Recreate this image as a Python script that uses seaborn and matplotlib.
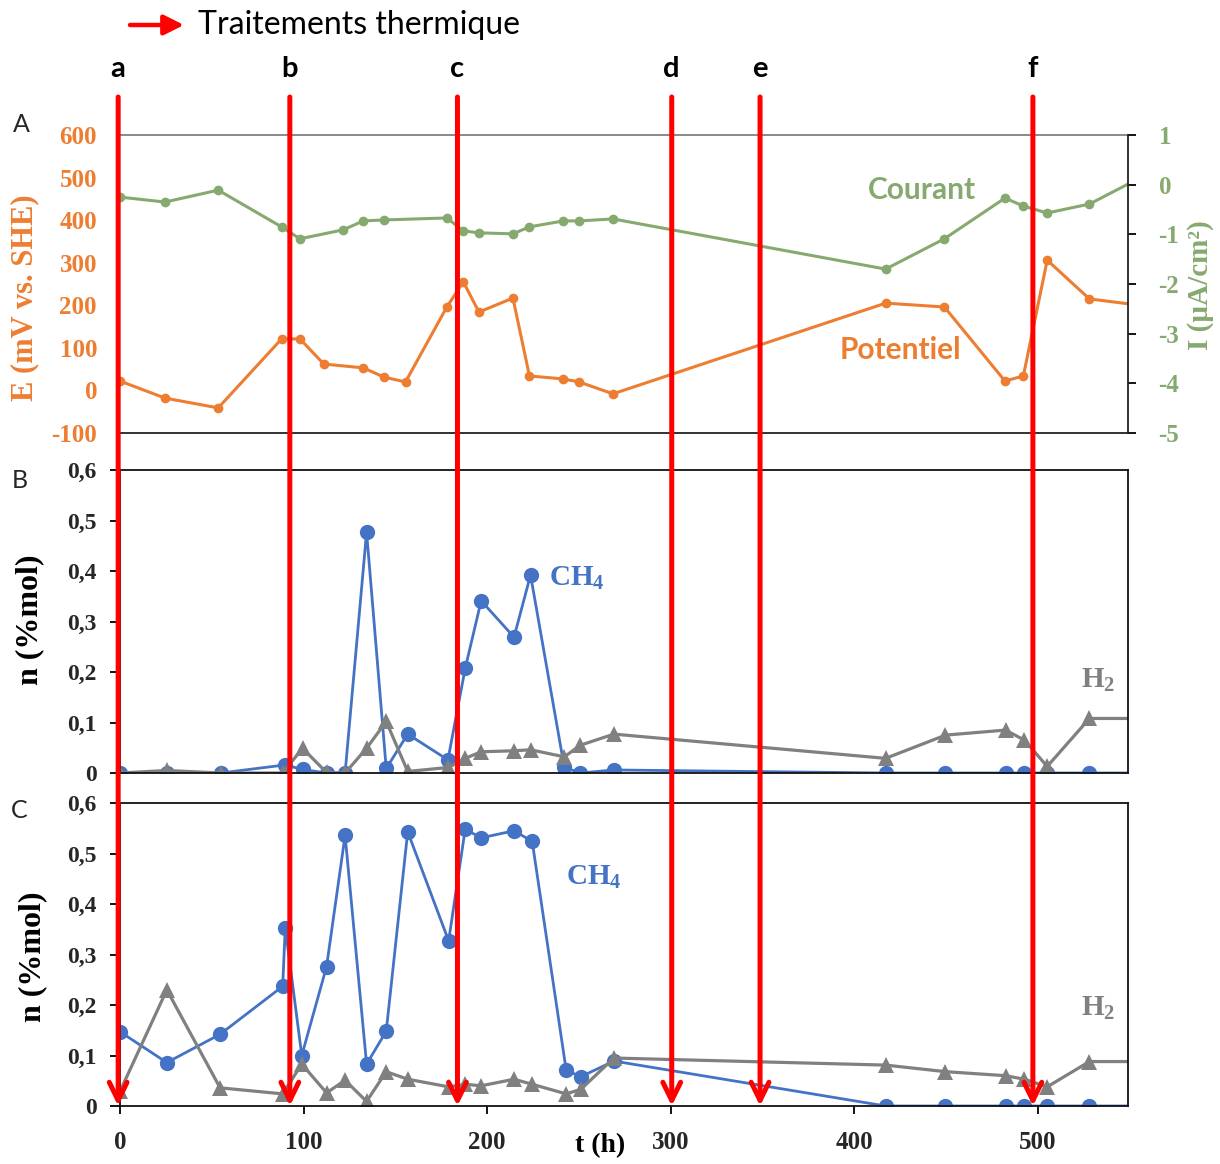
import numpy as np
import pandas as pd
import matplotlib
matplotlib.use("Agg")
import matplotlib.pyplot as plt
import seaborn as sns
from matplotlib.transforms import blended_transform_factory

sns.set_theme(style="ticks")
plt.rcParams['font.family'] = ['Liberation Serif', 'DejaVu Sans']
plt.rcParams['mathtext.fontset'] = 'custom'
plt.rcParams['mathtext.rm'] = 'Liberation Serif:bold'
plt.rcParams['mathtext.it'] = 'Liberation Serif:bold'
plt.rcParams['mathtext.bf'] = 'Liberation Serif:bold'

# ---------------- data ----------------
# Panel A : potential (mV vs SHE) and current (uA/cm2)
t_E = [0, 24.5, 53.5, 88, 98, 111, 132.5, 144, 155.5, 178, 187, 195.5, 214, 223,
       241.5, 250, 268.5, 417, 449, 482, 492, 505, 528, 550]
E_mV = [22, -18, -41, 121, 121, 62, 53, 31, 20, 196, 255, 184, 217, 34,
        27, 20, -8, 205, 196, 22, 34, 306, 215, 203]
t_I = [0, 24.5, 53.5, 88, 98, 121.5, 132.5, 144, 178, 187, 195.5, 214, 223,
       241.5, 250, 268.5, 417, 449, 482, 492, 505, 528, 550]
I_uA = [-0.25, -0.35, -0.11, -0.85, -1.09, -0.91, -0.73, -0.71, -0.67, -0.93, -0.97,
        -0.99, -0.85, -0.73, -0.73, -0.69, -1.70, -1.09, -0.27, -0.43, -0.57, -0.39, 0.03]

# Panel B : gas composition
tB_ch4 = [0, 25.5, 54.8, 90, 99.4, 112.5, 122.6, 134.3, 145, 156.7, 178.6, 188, 196.7,
          214.6, 223.6, 242, 250.7, 269, 417, 449.6, 482.3, 492.6, 505, 528, 550]
nB_ch4 = [0, 0, 0, 0.016, 0.007, 0, 0, 0.477, 0.009, 0.077, 0.026, 0.207, 0.341,
          0.269, 0.392, 0.011, 0, 0.006, 0, 0, 0, 0, 0, 0, 0]
tB_h2 = [0, 25.5, 54.8, 88.6, 99.4, 112.5, 122.6, 134.3, 145, 156.7, 178.6, 188, 196.7,
         214.6, 223.6, 242, 250.7, 269, 417, 449.6, 482.3, 492.6, 505, 528, 550]
nB_h2 = [0, 0.005, 0, 0, 0.049, 0.001, 0, 0.049, 0.102, 0.003, 0.011, 0.029, 0.042,
         0.044, 0.046, 0.032, 0.055, 0.077, 0.029, 0.075, 0.085, 0.065, 0.013, 0.108, 0.108]

# Panel C : gas composition
tC_ch4 = [0, 25.5, 54.5, 88.6, 90, 99, 112.5, 122.6, 134.3, 145, 156.7, 179, 188, 196.7,
          214.6, 224.5, 243, 251, 269, 417, 449.6, 482.3, 492.6, 505, 528, 550]
nC_ch4 = [0.147, 0.086, 0.142, 0.237, 0.353, 0.100, 0.276, 0.536, 0.083, 0.148, 0.543,
          0.327, 0.548, 0.531, 0.545, 0.524, 0.071, 0.058, 0.089, 0, 0, 0, 0, 0, 0, 0]
tC_h2 = [0, 25.5, 54.5, 88.6, 99, 112.5, 122.6, 134.3, 145, 156.7, 179, 188, 196.7,
         214.6, 224.5, 243, 251, 269, 417, 449.6, 482.3, 492.6, 505, 528, 550]
nC_h2 = [0.029, 0.230, 0.036, 0.024, 0.083, 0.026, 0.051, 0.009, 0.068, 0.053, 0.038,
         0.043, 0.040, 0.053, 0.043, 0.024, 0.033, 0.095, 0.081, 0.068, 0.060, 0.053,
         0.038, 0.088, 0.088]

# heat treatments
treat_t = [-1, 92.5, 183.8, 300.5, 348.6, 497.2]
treat_lbl = ['a', 'b', 'c', 'd', 'e', 'f']

E_ticks = [-100, 0, 100, 200, 300, 400, 500, 600]
I_ticks = [-5, -4, -3, -2, -1, 0, 1]
n_ticks = [0, 0.1, 0.2, 0.3, 0.4, 0.5, 0.6]
n_tick_lbl = ['0', '0,1', '0,2', '0,3', '0,4', '0,5', '0,6']
t_ticks = [0, 100, 200, 300, 400, 500]

# ---------------- style ----------------
ORANGE = '#ED7D31'
GREEN = '#86A970'
BLUE = '#4472C4'
GRAY = '#808080'
RED = '#FF0000'
SANS = ['Lato', 'DejaVu Sans']

W, H = 1220, 1164
fig = plt.figure(figsize=(W / 100, H / 100), dpi=100)


def rect(l, t, r, b):
    return [l / W, 1 - b / H, (r - l) / W, (b - t) / H]


XMAX = 549
axA = fig.add_axes(rect(120, 135, 1128, 433))
axA2 = axA.twinx()
axB = fig.add_axes(rect(120, 470, 1128, 773))
axC = fig.add_axes(rect(120, 803, 1128, 1106))

# ---- panel A ----
sns.lineplot(x=t_E, y=E_mV, ax=axA, color=ORANGE, lw=2.2, marker='o', markersize=7,
             markeredgewidth=0, markevery=list(range(len(t_E) - 1)),
             estimator=None, sort=False)
sns.lineplot(x=t_I, y=I_uA, ax=axA2, color=GREEN, lw=2.2, marker='o', markersize=7,
             markeredgewidth=0, markevery=list(range(len(t_I) - 1)),
             estimator=None, sort=False)
axA.set_xlim(0, XMAX)
axA.set_ylim(-100, 600)
axA2.set_ylim(-5, 1)
axA.set_xticks([])
axA.set_yticks(E_ticks)
axA.set_yticklabels([str(v) for v in E_ticks])
axA2.set_yticks(I_ticks)
axA2.set_yticklabels([str(v) for v in I_ticks])
axA.tick_params(axis='y', length=0, pad=23 * 0.72, labelsize=18, labelcolor=ORANGE)
axA2.tick_params(axis='y', right=True, length=6, width=1.3, color='black', pad=16,
                 labelsize=18, labelcolor=GREEN)
for lab in axA.get_yticklabels():
    lab.set_fontweight('bold')
for lab in axA2.get_yticklabels():
    lab.set_fontweight('bold')
for sp in ['left', 'right']:
    axA.spines[sp].set_visible(False)
axA.spines['top'].set_color('#808080')
axA.spines['top'].set_linewidth(1.3)
axA.spines['bottom'].set_color('#222222')
axA.spines['bottom'].set_linewidth(1.3)
for sp in ['left', 'top', 'bottom']:
    axA2.spines[sp].set_visible(False)
axA2.spines['right'].set_color('#222222')
axA2.spines['right'].set_linewidth(1.3)
axA.set_xlabel('')
axA.set_ylabel('')
axA2.set_ylabel('')
axA.text(-95 / 1008, (433 - 298) / 298, 'E (mV vs. SHE)', transform=axA.transAxes,
         rotation=90, ha='center', va='center', fontsize=22, fontweight='bold', color=ORANGE)
axA.text((1200 - 120) / 1008, (433 - 285) / 298, 'I (µA/cm²)', transform=axA.transAxes,
         rotation=90, ha='center', va='center', fontsize=21, fontweight='bold', color=GREEN)
axA.text((922 - 120) / 1008, (433 - 190) / 298, 'Courant', transform=axA.transAxes,
         ha='center', va='center', fontsize=21.5, fontweight='bold', color=GREEN, family=SANS)
axA.text((900 - 120) / 1008, (433 - 350) / 298, 'Potentiel', transform=axA.transAxes,
         ha='center', va='center', fontsize=21.5, fontweight='bold', color=ORANGE, family=SANS)


def gas_panel(ax, t1, n1, t2, n2, show_x):
    sns.lineplot(x=t1, y=n1, ax=ax, color=BLUE, lw=2, marker='o', markersize=11,
                 markeredgewidth=0, markevery=list(range(len(t1) - 1)),
                 estimator=None, sort=False)
    sns.lineplot(x=t2, y=n2, ax=ax, color=GRAY, lw=2.3, marker='^', markersize=11,
                 markeredgewidth=0, markevery=list(range(len(t2) - 1)),
                 estimator=None, sort=False)
    ax.set_xlim(0, XMAX)
    ax.set_ylim(0, 0.6)
    ax.set_yticks(n_ticks)
    ax.set_yticklabels(n_tick_lbl)
    ax.tick_params(axis='y', left=True, length=7, width=1.3, color='black', pad=10,
                   labelsize=17)
    if show_x:
        ax.set_xticks(t_ticks)
        ax.set_xticklabels([str(v) for v in t_ticks])
        ax.tick_params(axis='x', bottom=True, length=6, width=1.3, color='black', pad=12,
                       labelsize=18)
        for lab in ax.get_xticklabels():
            lab.set_fontweight('bold')
    else:
        ax.set_xticks([])
    for lab in ax.get_yticklabels():
        lab.set_fontweight('bold')
    for sp in ax.spines.values():
        sp.set_color('#111111')
        sp.set_linewidth(1.3)
    ax.set_xlabel('')
    ax.set_ylabel('')


gas_panel(axB, tB_ch4, nB_ch4, tB_h2, nB_h2, False)
gas_panel(axC, tC_ch4, nC_ch4, tC_h2, nC_h2, True)

axB.text((30 - 120) / 1008, (773 - 620) / 303, 'n (%mol)', transform=axB.transAxes,
         rotation=90, ha='center', va='center', fontsize=23, fontweight='bold', color='black')
axC.text((33 - 120) / 1008, (1106 - 957) / 303, 'n (%mol)', transform=axC.transAxes,
         rotation=90, ha='center', va='center', fontsize=23, fontweight='bold', color='black')
axC.text((600 - 120) / 1008, (1106 - 1146) / 303, 't (h)', transform=axC.transAxes,
         ha='center', va='center', fontsize=20, fontweight='bold', color='black')

axB.text((549 - 120) / 1008, (773 - 578) / 303, 'CH$_4$', transform=axB.transAxes,
         ha='left', va='center', fontsize=21, fontweight='bold', color=BLUE)
axC.text((566 - 120) / 1008, (1106 - 877) / 303, 'CH$_4$', transform=axC.transAxes,
         ha='left', va='center', fontsize=21, fontweight='bold', color=BLUE)
axB.text((1081 - 120) / 1008, (773 - 680) / 303, 'H$_2$', transform=axB.transAxes,
         ha='left', va='center', fontsize=21, fontweight='bold', color=GRAY)
axC.text((1081 - 120) / 1008, (1106 - 1008) / 303, 'H$_2$', transform=axC.transAxes,
         ha='left', va='center', fontsize=21, fontweight='bold', color=GRAY)

# panel letters
fig.text(21 / W, 1 - 125 / H, 'A', ha='center', va='center', fontsize=18, family=SANS)
fig.text(20 / W, 1 - 481 / H, 'B', ha='center', va='center', fontsize=18, family=SANS)
fig.text(19 / W, 1 - 810 / H, 'C', ha='center', va='center', fontsize=18, family=SANS)

# heat treatment arrows
trans = blended_transform_factory(axC.transData, fig.transFigure)
for t, lbl in zip(treat_t, treat_lbl):
    axC.annotate('', xy=(t, 0), xycoords='data', xytext=(t, 1 - 97 / H), textcoords=trans,
                 arrowprops=dict(arrowstyle='->,head_length=0.65,head_width=0.32',
                                 color=RED, lw=3.6, shrinkA=0, shrinkB=0,
                                 mutation_scale=20),
                 annotation_clip=False, zorder=20)
    axC.text(t, 1 - 69 / H, lbl, transform=trans, ha='center', va='center', fontsize=21,
             fontweight='bold', family=SANS, color='black', clip_on=False)

# legend arrow
fig.add_artist(matplotlib.patches.FancyArrowPatch(
    (130 / W, 1 - 25 / H), (184 / W, 1 - 25 / H), transform=fig.transFigure,
    arrowstyle='-|>,head_length=0.6,head_width=0.3', mutation_scale=20,
    color=RED, lw=3.2, shrinkA=0, shrinkB=0))
fig.text(198 / W, 1 - 25 / H, 'Traitements thermique', ha='left', va='center',
         fontsize=23, family=SANS, color='black')

fig.savefig('out.png', dpi=100, facecolor='white')
